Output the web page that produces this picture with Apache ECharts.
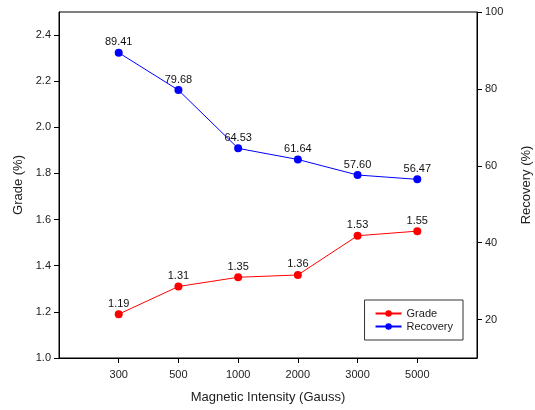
<!DOCTYPE html>
<html><head><meta charset="utf-8">
<script src="https://cdn.jsdelivr.net/npm/echarts@6/dist/echarts.min.js"></script>
<style>html,body{margin:0;padding:0;background:#fff}#c{width:535px;height:410px}</style>
</head><body><div id="c"></div>
<script>
const categories = ['300','500','1000','2000','3000','5000'];
const grade = [1.19, 1.31, 1.35, 1.36, 1.53, 1.55];
const recovery = [89.41, 79.68, 64.53, 61.64, 57.60, 56.47];
const gradeTicks = [1.0, 1.2, 1.4, 1.6, 1.8, 2.0, 2.2, 2.4];
const recoveryTicks = [20, 40, 60, 80, 100];
const xPositions = [1, 2, 3, 4, 5, 6];

const font = 'Liberation Sans, Arial, sans-serif';
const chart = echarts.init(document.getElementById('c'));
chart.setOption({
  animation: false,
  textStyle: { fontFamily: font },
  grid: { left: 59, right: 58, top: 12, bottom: 52, show: true, borderColor: '#000', borderWidth: 1, outerBoundsMode: 'none', containLabel: false },
  legend: {
    right: 72, top: 300, orient: 'vertical', itemGap: 2, itemWidth: 26, itemHeight: 8,
    padding: [8, 10, 8, 10], borderColor: '#333', borderWidth: 1,
    textStyle: { fontSize: 11, color: '#222', fontFamily: font },
    data: ['Grade', 'Recovery']
  },
  xAxis: {
    type: 'value', min: 0, max: 7,
    name: 'Magnetic Intensity (Gauss)', nameLocation: 'middle', nameGap: 33,
    nameTextStyle: { fontSize: 13, color: '#222' },
    axisLine: { lineStyle: { color: '#000' } },
    axisTick: { customValues: xPositions, length: 5, lineStyle: { color: '#000' } },
    axisLabel: { customValues: xPositions, formatter: v => categories[v - 1], fontSize: 11, color: '#222', margin: 11 },
    splitLine: { show: false }
  },
  yAxis: [{
    type: 'value', min: 1.0, max: 2.5, position: 'left',
    name: 'Grade (%)', nameLocation: 'middle', nameGap: 34,
    nameTextStyle: { fontSize: 13, color: '#222' },
    axisLine: { show: true, lineStyle: { color: '#000' } },
    axisTick: { show: true, customValues: gradeTicks, length: 5, lineStyle: { color: '#000' } },
    axisLabel: { customValues: gradeTicks, formatter: v => v.toFixed(1), fontSize: 11, color: '#222', margin: 8 },
    splitLine: { show: false }
  }, {
    type: 'value', min: 10, max: 100, position: 'right',
    name: 'Recovery (%)', nameLocation: 'middle', nameGap: 43,
    nameTextStyle: { fontSize: 13, color: '#222' },
    axisLine: { show: true, lineStyle: { color: '#000' } },
    axisTick: { show: true, customValues: recoveryTicks, length: 5, lineStyle: { color: '#000' } },
    axisLabel: { customValues: recoveryTicks, fontSize: 11, color: '#222', margin: 8 },
    splitLine: { show: false }
  }],
  series: [{
    name: 'Grade', type: 'line', yAxisIndex: 0,
    data: grade.map((v, i) => [xPositions[i], v]),
    symbol: 'circle', symbolSize: 8,
    itemStyle: { color: '#ff0000' }, lineStyle: { color: '#ff0000', width: 1 },
    label: { show: true, position: 'top', distance: 1, color: '#111', fontSize: 11, formatter: p => p.value[1].toFixed(2) }
  }, {
    name: 'Recovery', type: 'line', yAxisIndex: 1,
    data: recovery.map((v, i) => [xPositions[i], v]),
    symbol: 'circle', symbolSize: 8,
    itemStyle: { color: '#0000ff' }, lineStyle: { color: '#0000ff', width: 1 },
    label: { show: true, position: 'top', distance: 1, color: '#111', fontSize: 11, formatter: p => p.value[1].toFixed(2) }
  }]
});
</script></body></html>
